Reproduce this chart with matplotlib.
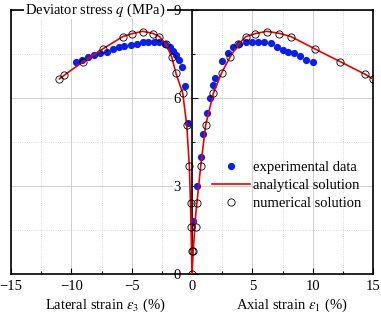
import numpy as np
import matplotlib.pyplot as plt
from matplotlib.ticker import MultipleLocator
from matplotlib.lines import Line2D

plt.rcParams['font.family'] = ['Liberation Serif', 'DejaVu Serif']
plt.rcParams['mathtext.fontset'] = 'stix'

# experimental data (blue dots)
exp_x = [-9.61, -9.14, -8.6, -8.09, -7.62, -7.07, -6.52, -6.02, -5.6, -5.05, -4.58, -4.09,
         -3.62, -3.12, -2.71, -2.24, -1.82, -1.55, -1.33, -1.05, -0.8, -0.6, -0.3,
         0.11, 0.44, 0.72, 0.94, 1.21, 1.49, 1.71, 1.9, 2.46, 2.96, 3.42, 3.92, 4.47,
         4.95, 5.44, 5.99, 6.52, 7.02, 7.51, 7.98, 8.45, 8.95, 9.44, 10.05]
exp_y = [7.22, 7.3, 7.39, 7.47, 7.52, 7.58, 7.66, 7.73, 7.77, 7.81, 7.84, 7.9,
         7.92, 7.9, 7.9, 7.83, 7.75, 7.6, 7.47, 7.3, 7.05, 6.42, 5.14,
         1.8, 3.0, 4.0, 4.77, 5.5, 5.99, 6.44, 6.68, 7.26, 7.52, 7.73, 7.83, 7.9,
         7.92, 7.92, 7.9, 7.87, 7.75, 7.64, 7.58, 7.52, 7.44, 7.3, 7.22]

# numerical solution (open circles)
num_x = [-11.0, -10.6, -9.0, -7.4, -5.74, -4.97, -4.09, -3.26, -2.7, -2.15, -1.68, -1.33,
         -0.77, -0.44, -0.22, -0.11, -0.11, 0.0, 0.0,
         0.05, 0.33, 0.39, 0.72, 1.13, 1.77, 2.46, 3.15, 3.84, 4.47, 5.22, 6.19,
         7.23, 8.2, 10.19, 12.26, 14.33, 14.97]
num_y = [6.65, 6.78, 7.24, 7.67, 8.09, 8.19, 8.26, 8.19, 8.09, 7.83, 7.39, 6.84,
         6.16, 5.08, 3.68, 2.41, 1.59, 0.8, 0.0,
         0.8, 1.59, 2.41, 3.68, 5.08, 6.16, 6.86, 7.39, 7.83, 8.09, 8.19, 8.26,
         8.19, 8.09, 7.67, 7.24, 6.81, 6.65]

# analytical solution (red line), lateral and axial branches
ana_lat_x = [-11.0, -10.0, -9.0, -7.4, -5.74, -4.97, -4.09, -3.26, -2.7, -2.15, -1.68,
             -1.33, -0.77, -0.44, -0.22, -0.1, 0.0]
ana_lat_y = [6.65, 6.95, 7.24, 7.67, 8.09, 8.19, 8.27, 8.2, 8.09, 7.83, 7.39,
             6.84, 6.16, 5.08, 3.68, 2.0, 0.0]
ana_ax_x = [0.0, 0.1, 0.3, 0.72, 1.13, 1.77, 2.46, 3.15, 3.84, 4.47, 5.22, 6.19,
            7.23, 8.2, 10.19, 12.26, 14.33, 14.97]
ana_ax_y = [0.0, 0.8, 2.0, 3.68, 5.08, 6.16, 6.86, 7.39, 7.83, 8.09, 8.19, 8.27,
            8.2, 8.09, 7.67, 7.24, 6.81, 6.65]

fig = plt.figure(figsize=(3.81, 3.18), dpi=100)
ax = fig.add_axes([0.029, 0.138, 0.950, 0.831])

ax.plot(exp_x, exp_y, 'o', color='#0a1ef0', ms=5.2, mew=0, zorder=3)
ax.plot(ana_lat_x, ana_lat_y, '-', color='#f00000', lw=1.2, zorder=4)
ax.plot(ana_ax_x, ana_ax_y, '-', color='#f00000', lw=1.2, zorder=4)
ax.plot(num_x, num_y, 'o', mfc='none', mec='k', ms=5.2, mew=0.6, zorder=5)

ax.set_xlim(-15, 15)
ax.set_ylim(0, 9)
ax.xaxis.set_major_locator(MultipleLocator(5))
ax.xaxis.set_minor_locator(MultipleLocator(2.5))
ax.yaxis.set_major_locator(MultipleLocator(3))
ax.yaxis.set_minor_locator(MultipleLocator(1.5))

ax.grid(which='major', color='#c8c8c8', lw=0.6, ls='-')
ax.grid(which='minor', color='#d0d0d0', lw=0.6, ls=':')
ax.set_axisbelow(True)

ax.spines['left'].set_position(('data', 0))
for s in ax.spines.values():
    s.set_linewidth(1.2)
# outer frame on the left side
ax.plot([0, 0], [0, 1], transform=ax.transAxes, color='k', lw=1.2, clip_on=False)

ax.tick_params(axis='both', which='major', direction='in', length=4, width=0.8,
               labelsize=10.5)
ax.tick_params(axis='both', which='minor', direction='in', length=2.5, width=0.8)
ax.tick_params(axis='y', pad=8)
ax.tick_params(axis='x', pad=4)
for lab in ax.get_yticklabels():
    lab.set_bbox(dict(facecolor='white', edgecolor='none', pad=0.5))

ax.text(-8.0, 9, 'Deviator stress $q$ (MPa)', ha='center', va='center', fontsize=10.5,
        bbox=dict(facecolor='white', edgecolor='none', pad=0.5), zorder=6, clip_on=False)

ax.text(-7.2, -1.08, r'Lateral strain $\varepsilon_3$ (%)', ha='center', va='center', fontsize=10.5)
ax.text(8.3, -1.08, r'Axial strain $\varepsilon_1$ (%)', ha='center', va='center', fontsize=10.5)

handles = [Line2D([], [], ls='none', marker='o', color='#0a1ef0', ms=5.2, mew=0),
           Line2D([], [], color='#f00000', lw=1.2),
           Line2D([], [], ls='none', marker='o', mfc='none', mec='k', ms=5.2, mew=0.6)]
labels = ['experimental data', 'analytical solution', 'numerical solution']
fig.legend(handles, labels, loc='upper left', bbox_to_anchor=(212 / 381, 1 - 161 / 318),
           frameon=False, fontsize=10.5, handlelength=2.6, handletextpad=0.2,
           labelspacing=0.32, borderpad=0, borderaxespad=0)

fig.savefig('out.png', dpi=100)
